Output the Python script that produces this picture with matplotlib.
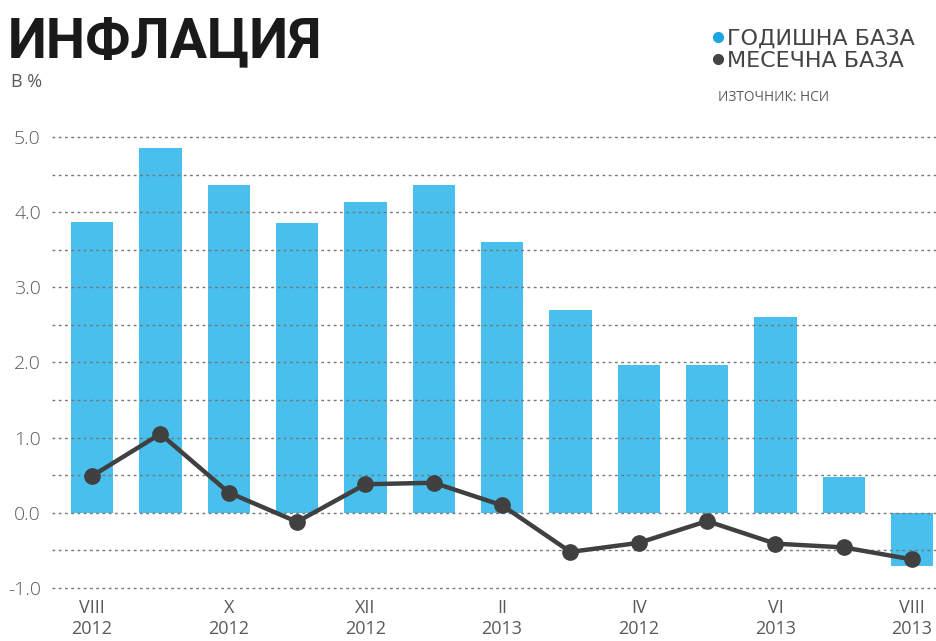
import matplotlib
matplotlib.use("Agg")
import matplotlib.pyplot as plt
from matplotlib.lines import Line2D
import numpy as np

plt.rcParams['font.family'] = ['Open Sans', 'DejaVu Sans']

# Data
months = ["VIII", "IX", "X", "XI", "XII", "I", "II", "III", "IV", "V", "VI", "VII", "VIII"]
years = ["2012", "2012", "2012", "2012", "2012", "2013", "2013", "2013", "2012", "2013", "2013", "2013", "2013"]
annual = [3.87, 4.85, 4.36, 3.86, 4.14, 4.36, 3.6, 2.7, 1.97, 1.97, 2.6, 0.48, -0.71]
monthly = [0.49, 1.05, 0.27, -0.12, 0.38, 0.4, 0.1, -0.52, -0.4, -0.11, -0.41, -0.46, -0.62]
labeled_idx = [0, 2, 4, 6, 8, 10, 12]

bar_color = "#48BFEC"
line_color = "#404040"
text_gray = "#5a5a5a"

fig = plt.figure(figsize=(9.36, 6.41), dpi=100)
ax = fig.add_axes([0.0556, 0.0827, 0.9444, 0.7036])

x = np.arange(len(months))
ax.bar(x, annual, width=0.62, color=bar_color, zorder=1)
for yv in np.arange(-1.0, 5.01, 0.5):
    ax.axhline(yv, color="#777777", lw=1.0, ls=(0, (2, 2.5)), zorder=2, clip_on=False)
ax.plot(x, monthly, color=line_color, lw=3.2, marker="o", ms=11,
        markerfacecolor=line_color, markeredgecolor=line_color, zorder=3, clip_on=False)

ax.set_xlim(-0.585, 12.35)
ax.set_ylim(-1.0, 5.0)
for s in ax.spines.values():
    s.set_visible(False)
ax.set_yticks([-1, 0, 1, 2, 3, 4, 5])
ax.set_yticklabels([f"{v:.1f}" for v in [-1, 0, 1, 2, 3, 4, 5]])
ax.tick_params(axis='y', length=0, pad=8, labelsize=14, labelcolor=text_gray)
for lab in ax.get_yticklabels():
    lab.set_fontweight('light')
ax.set_xticks([x[i] for i in labeled_idx])
ax.set_xticklabels([f"{months[i]}\n{years[i]}" for i in labeled_idx],
                   fontsize=13, color=text_gray, linespacing=1.2)
ax.tick_params(axis='x', length=0, pad=8)

# Title and annotations
fig.text(8/936, 1 - 57/641, "ИНФЛАЦИЯ", fontsize=40, fontweight='bold',
         color="#1a1a1a", ha='left', va='baseline', family=['Roboto', 'DejaVu Sans'])
fig.text(11/936, 1 - 87/641, "В %", fontsize=13, color=text_gray,
         ha='left', va='baseline')

# Legend
fig.add_artist(Line2D([718/936], [1 - 37/641], marker='o', ms=7, color="#1aa6e0",
                      transform=fig.transFigure, lw=0))
fig.text(727/936, 1 - 45/641, "ГОДИШНА БАЗА", fontsize=16, color="#444444",
         ha='left', va='baseline', family=['DejaVu Sans'])
fig.add_artist(Line2D([718/936], [1 - 59/641], marker='o', ms=7, color="#444444",
                      transform=fig.transFigure, lw=0))
fig.text(727/936, 1 - 67/641, "МЕСЕЧНА БАЗА", fontsize=16, color="#444444",
         ha='left', va='baseline', family=['DejaVu Sans'])
fig.text(718/936, 1 - 101/641, "ИЗТОЧНИК: НСИ", fontsize=9.8, color=text_gray,
         ha='left', va='baseline')

fig.savefig("out.png", dpi=100)
